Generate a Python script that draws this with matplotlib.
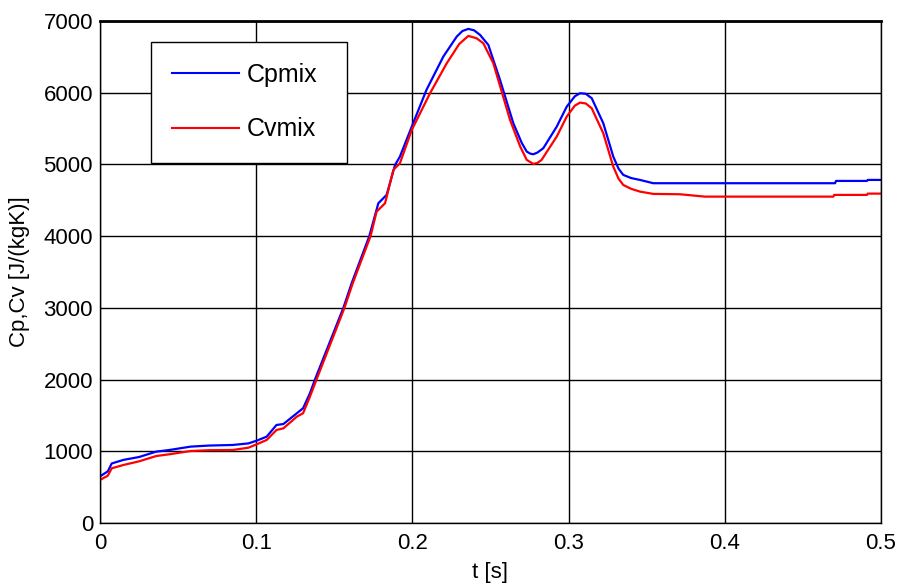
import matplotlib
matplotlib.use("Agg")
import matplotlib.pyplot as plt

plt.rcParams['font.family'] = ['Liberation Sans', 'DejaVu Sans']

t_cp = [0.0, 0.005, 0.0075, 0.015, 0.025, 0.036, 0.045, 0.058, 0.07, 0.085, 0.095, 0.1003,
        0.1067, 0.113, 0.1174, 0.126, 0.130, 0.1344, 0.1376, 0.1558, 0.1611, 0.1724, 0.1782,
        0.1835, 0.1889, 0.192, 0.1996, 0.209, 0.2198, 0.2284, 0.232, 0.2358, 0.2395, 0.2433,
        0.2486, 0.2561, 0.2646, 0.2700, 0.2732, 0.2755, 0.2774, 0.280, 0.2838, 0.2924, 0.2988,
        0.304, 0.3073, 0.311, 0.3148, 0.3222, 0.3286, 0.3320, 0.335, 0.340,
        0.3457, 0.3542, 0.3713, 0.4706, 0.4712, 0.491, 0.4915, 0.5]
cp_mix = [650, 720, 830, 880, 920, 995, 1020, 1065, 1080, 1088, 1110, 1148,
          1204, 1367, 1380, 1530, 1600, 1809, 2000, 3000, 3343, 4000, 4459,
          4575, 4993, 5109, 5527, 6039, 6504, 6783, 6860, 6890, 6870, 6806,
          6667, 6178, 5575, 5300, 5179, 5150, 5142, 5165, 5226, 5527, 5806,
          5950, 5993, 5985, 5923, 5575, 5109, 4940, 4854, 4810,
          4784, 4738, 4738, 4738, 4770, 4770, 4784, 4784]

t_cv = [0.0, 0.005, 0.0075, 0.015, 0.025, 0.036, 0.045, 0.058, 0.07, 0.085, 0.095, 0.1003,
        0.1067, 0.113, 0.1174, 0.126, 0.130, 0.1344, 0.1386, 0.1565, 0.1618, 0.1732, 0.1771,
        0.1825, 0.1878, 0.192, 0.1996, 0.2113, 0.222, 0.2300, 0.2358, 0.2410, 0.2454, 0.2518,
        0.2625, 0.2690, 0.2732, 0.2774, 0.2800, 0.2827, 0.2924, 0.2988, 0.304, 0.3073, 0.311,
        0.3148, 0.3222, 0.3286, 0.3320, 0.335, 0.340,
        0.3457, 0.3542, 0.3713, 0.3873, 0.4695, 0.47, 0.491, 0.4915, 0.5]
cv_mix = [600, 660, 763, 809, 860, 934, 960, 1004, 1015, 1018, 1050, 1097,
          1158, 1297, 1320, 1483, 1530, 1762, 2000, 3000, 3343, 4000, 4342,
          4459, 4923, 5016, 5481, 5993, 6411, 6680, 6792, 6760, 6690, 6411,
          5621, 5250, 5063, 5007, 5020, 5063, 5388, 5667, 5820, 5862, 5850,
          5783, 5435, 4969, 4800, 4714, 4660,
          4621, 4589, 4584, 4551, 4551, 4575, 4575, 4593, 4593]

x_ticks = [0, 0.1, 0.2, 0.3, 0.4, 0.5]
x_ticklabels = ['0', '0.1', '0.2', '0.3', '0.4', '0.5']
y_ticks = [0, 1000, 2000, 3000, 4000, 5000, 6000, 7000]

fig = plt.figure(figsize=(8.99, 5.88), dpi=100)
ax = fig.add_axes([100/899, 1-523/588, 781/899, 502/588])

ax.plot(t_cp, cp_mix, color='#0000ff', lw=1.6, label='Cpmix')
ax.plot(t_cv, cv_mix, color='#ff0000', lw=1.6, label='Cvmix')

ax.set_xlim(0, 0.5)
ax.set_ylim(0, 7000)
ax.set_xticks(x_ticks)
ax.set_xticklabels(x_ticklabels)
ax.set_yticks(y_ticks)
ax.grid(True, color='black', lw=1.0, ls='-')
ax.tick_params(axis='y', direction='in', length=0, labelsize=16, pad=5)
ax.tick_params(axis='x', direction='in', length=0, labelsize=16, pad=7)
for s in ax.spines.values():
    s.set_linewidth(1.0)
ax.spines['top'].set_linewidth(2.0)

ax.set_xlabel('t [s]', fontsize=16, labelpad=6)
ax.set_ylabel('Cp,Cv [J/(kgK)]', fontsize=16, labelpad=10)

leg_x0 = (151 - 100) / 781
leg_top = (523 - 41.5) / 502
leg_w = 196 / 781
leg_h = 117 / 502
leg = ax.legend(loc='upper left', bbox_to_anchor=(leg_x0, leg_top - leg_h, leg_w, leg_h),
                mode='expand', fancybox=False, framealpha=1, edgecolor='black', fontsize=18,
                borderpad=0.85, labelspacing=1.22, handlelength=2.65,
                handletextpad=0.35, borderaxespad=0)
leg.get_frame().set_linewidth(1.0)
for line in leg.get_lines():
    line.set_linewidth(1.5)

fig.savefig('out.png', dpi=100)
